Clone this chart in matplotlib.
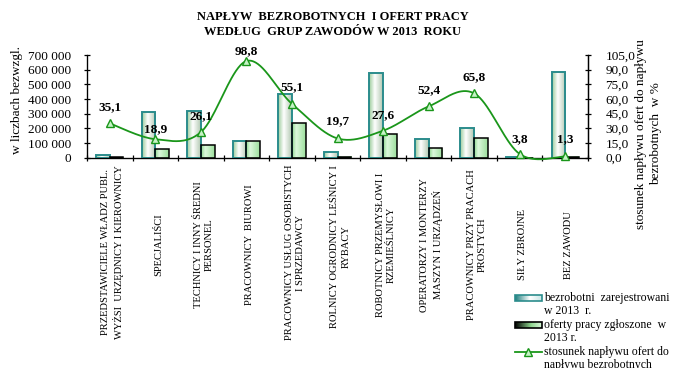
import numpy as np
import matplotlib
matplotlib.use("Agg")
import matplotlib.pyplot as plt
from matplotlib.colors import LinearSegmentedColormap
from matplotlib.patches import Rectangle
from matplotlib.lines import Line2D

plt.rcParams['font.family'] = ['Liberation Serif', 'DejaVu Serif']

# ---- data -------------------------------------------------------------
categories = [
    "PRZEDSTAWICIELE WŁADZ PUBL.\nWYŻSI  URZĘDNICY I KIEROWNICY",
    "SPECJALIŚCI",
    "TECHNICY I INNY ŚREDNI\nPERSONEL",
    "PRACOWNICY  BIUROWI",
    "PRACOWNICY USŁUG OSOBISTYCH\nI SPRZEDAWCY",
    "ROLNICY OGRODNICY LEŚNICY I\nRYBACY",
    "ROBOTNICY PRZEMYSŁOWI I\nRZEMIEŚLNICY",
    "OPERATORZY I MONTERZY\nMASZYN I URZĄDZEŃ",
    "PRACOWNICY PRZY PRACACH\nPROSTYCH",
    "SIŁY ZBROJNE",
    "BEZ ZAWODU",
]
unemployed = [16000, 309000, 320000, 114500, 432000, 37500, 577000, 127000, 201000, 3000, 586000]
offers = [5600, 58400, 83500, 113100, 238000, 7400, 159300, 66500, 132300, 115, 7600]
ratio = [35.1, 18.9, 26.1, 98.8, 55.1, 19.7, 27.6, 52.4, 65.8, 3.8, 1.3]

left_ticks = [0, 100000, 200000, 300000, 400000, 500000, 600000, 700000]
right_ticks = [0, 15, 30, 45, 60, 75, 90, 105]

title_lines = ["NAPŁYW  BEZROBOTNYCH  I OFERT PRACY",
               "WEDŁUG  GRUP ZAWODÓW W 2013  ROKU"]
left_label = "w liczbach bezwzgl."
right_label = "stosunek napływu ofert do napływu\nbezrobotnych  w %"
legend_entries = [["bezrobotni  zarejestrowani", "w 2013  r."],
                  ["oferty pracy zgłoszone  w", "2013 r."],
                  ["stosunek napływu ofert do", "napływu bezrobotnych"]]

# ---- styling ----------------------------------------------------------
W, H = 673, 368
LINE_GREEN = '#1a961a'
MARK_FACE = '#c6f3c6'
TEAL = '#2b8c8c'
SERIF = 'Liberation Serif'

cmap_unemp = LinearSegmentedColormap.from_list(
    'unemp', [(0.0, '#9ccc9c'), (0.42, '#ffffff'), (1.0, '#b2c8b2')])
cmap_offer = LinearSegmentedColormap.from_list(
    'offer', [(0.0, '#8fd68f'), (0.3, '#dcf8dc'), (1.0, '#9cdf9c')])
cmap_sw_unemp = LinearSegmentedColormap.from_list(
    'swu', [(0.0, '#1f7f7f'), (0.55, '#ffffff'), (1.0, '#c8e6e6')])
cmap_sw_offer = LinearSegmentedColormap.from_list(
    'swo', [(0.0, '#000000'), (0.6, '#8fd68f'), (1.0, '#d8f6d8')])
grad = np.linspace(0, 1, 64)[None, :]

fig = plt.figure(figsize=(W / 100, H / 100), dpi=100)
fig.patch.set_facecolor('white')

ax_left, ax_right, ax_top, ax_bot = 87, 588, 55, 157.7
ax = fig.add_axes([ax_left / W, 1 - ax_bot / H, (ax_right - ax_left) / W, (ax_bot - ax_top) / H])
ax.set_facecolor('none')

n = len(categories)
x = np.arange(n)
bw = 0.30

# gradient-filled bars
for i in range(n):
    for x0, h, cm, ec in ((x[i] - bw, unemployed[i], cmap_unemp, TEAL),
                          (x[i], offers[i], cmap_offer, 'black')):
        ax.imshow(grad, cmap=cm, extent=(x0, x0 + bw, 0, h), aspect='auto',
                  interpolation='bilinear', zorder=2)
        ax.add_patch(Rectangle((x0, 0), bw, h, fill=False, edgecolor=ec,
                               linewidth=1.4 if ec == TEAL else 1.1, zorder=3))

ax.set_xlim(-0.5, n - 0.5)
ax.set_ylim(0, 700000)
ax.set_xticks(np.arange(-0.5, n, 1.0))
ax.set_xticklabels([])
ax.set_yticks(left_ticks)
ax.set_yticklabels([f"{v:,}".replace(',', ' ') for v in left_ticks],
                   fontsize=9.5, family=SERIF)
ax.tick_params(axis='both', direction='inout', length=5, width=0.9, pad=4)
ax.tick_params(axis='y', pad=9)
ax.spines['top'].set_visible(False)
for s in ('left', 'bottom', 'right'):
    ax.spines[s].set_linewidth(0.9)

# ratio line on the secondary axis, drawn as a smoothed Bezier curve
ax2 = ax.twinx()
ax2.set_ylim(0, 105)
ax2.set_yticks(right_ticks)
ax2.set_yticklabels([f"{v:.1f}".replace('.', ',') for v in right_ticks],
                    fontsize=9.5, family=SERIF)
ax2.tick_params(axis='y', direction='inout', length=5, width=0.9, pad=10)
ax2.spines['top'].set_visible(False)
ax2.spines['right'].set_linewidth(0.9)


def smooth_path(xs, ys, steps=40):
    p = np.column_stack([xs, ys]).astype(float)
    ext = np.vstack([p[0], p, p[-1]])
    out = []
    for k in range(len(p) - 1):
        p0, p1, p2, p3 = ext[k], ext[k + 1], ext[k + 2], ext[k + 3]
        c1 = p1 + (p2 - p0) / 6.0
        c2 = p2 - (p3 - p1) / 6.0
        t = np.linspace(0, 1, steps)[:, None]
        seg = ((1 - t) ** 3) * p1 + 3 * ((1 - t) ** 2) * t * c1 + 3 * (1 - t) * t ** 2 * c2 + t ** 3 * p2
        out.append(seg if k == 0 else seg[1:])
    return np.vstack(out)


curve = smooth_path(x, ratio)
ax2.plot(curve[:, 0], curve[:, 1], color=LINE_GREEN, lw=1.3, zorder=4, clip_on=False)
ax2.plot(x, ratio, linestyle='none', marker='^', markersize=6,
         markerfacecolor=MARK_FACE, markeredgecolor=LINE_GREEN, markeredgewidth=1.0,
         zorder=5, clip_on=False)

label_dy = [16, 10, 16, 10, 17, 17, 16, 16, 16, 15, 17]
for i, v in enumerate(ratio):
    ax2.annotate(f"{v:.1f}".replace('.', ','), xy=(x[i], v), xytext=(0, label_dy[i]),
                 textcoords='offset pixels', ha='center', va='center',
                 fontsize=9.5, fontweight='bold', family=SERIF, zorder=6,
                 annotation_clip=False)
ax2.set_xlim(-0.5, n - 0.5)

# category labels under the axis
cat_texts = []
for i, lab in enumerate(categories):
    t = ax.annotate(lab, xy=(x[i], 0), xycoords=('data', 'axes fraction'),
                    xytext=(3, -87), textcoords='offset pixels', rotation=90,
                    ha='center', va='center', fontsize=7.6, family=SERIF,
                    linespacing=1.3, annotation_clip=False)
    cat_texts.append(t)

# pixel-space overlay for titles, axis titles and the legend
ov = fig.add_axes([0, 0, 1, 1])
ov.set_xlim(0, W)
ov.set_ylim(H, 0)
ov.axis('off')
ov.patch.set_alpha(0)

ov.text(333, 16.7, title_lines[0], ha='center', va='center', fontsize=9,
        fontweight='bold', family=SERIF)
ov.text(333, 31.7, title_lines[1], ha='center', va='center', fontsize=9,
        fontweight='bold', family=SERIF)
ov.text(17, 100, left_label, rotation=90, ha='center', va='center', fontsize=9.5,
        family=SERIF)
ov.text(648.5, 134, right_label, rotation=90, ha='center', va='center', fontsize=9.5,
        family=SERIF, linespacing=1.25, multialignment='center')

# legend
sw_x0, sw_x1, txt_x = 515, 541.5, 544
line_step = 13.4
entry_y = [298, 298 + 2 * line_step, 298 + 4 * line_step]
for cm, ec, y in ((cmap_sw_unemp, TEAL, entry_y[0]), (cmap_sw_offer, 'black', entry_y[1])):
    ov.imshow(grad, cmap=cm, extent=(sw_x0, sw_x1, y + 3, y - 3), aspect='auto',
              interpolation='bilinear', zorder=2)
    ov.add_patch(Rectangle((sw_x0, y - 3), sw_x1 - sw_x0, 6, fill=False, edgecolor=ec,
                           linewidth=1.2, zorder=3))
ov.add_line(Line2D([sw_x0, sw_x1], [entry_y[2], entry_y[2]], color=LINE_GREEN, lw=1.3))
ov.plot([(sw_x0 + sw_x1) / 2], [entry_y[2]], marker='^', markersize=6,
        markerfacecolor=MARK_FACE, markeredgecolor=LINE_GREEN, markeredgewidth=1.0)
for y, lines in zip(entry_y, legend_entries):
    for j, s in enumerate(lines):
        ov.text(txt_x, y + j * line_step, s, ha='left', va='center', fontsize=8.5,
                family=SERIF, clip_on=False)
ov.set_xlim(0, W)
ov.set_ylim(H, 0)

# keep long category labels from running into the axis
fig.canvas.draw()
renderer = fig.canvas.get_renderer()
min_top = 165
for t in cat_texts:
    bb = t.get_window_extent(renderer)
    top_px = H - bb.y1
    if top_px < min_top:
        dx, dy = t.xyann
        t.xyann = (dx, dy - (min_top - top_px))

fig.savefig('out.png', dpi=100, facecolor='white')
